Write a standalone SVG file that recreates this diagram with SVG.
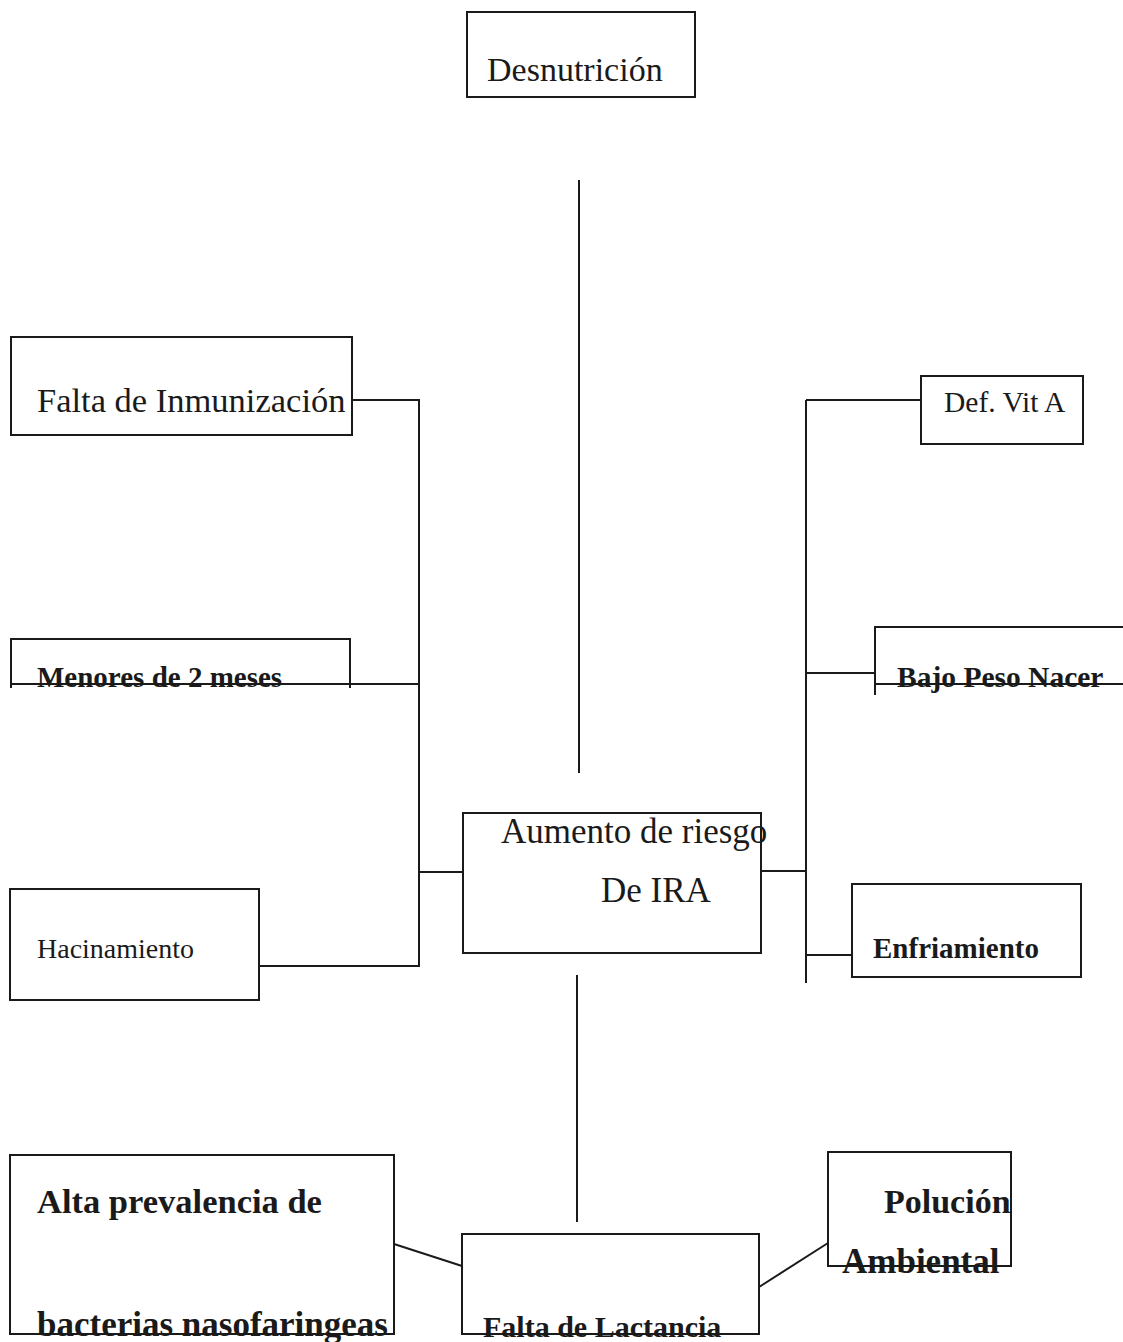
<svg xmlns="http://www.w3.org/2000/svg" width="1123" height="1342" viewBox="0 0 1123 1342">
<style>
.box{fill:none;stroke:#1a1a1a;stroke-width:2}
.ln{fill:none;stroke:#1a1a1a;stroke-width:2}
.t{font-family:"Liberation Serif","Times New Roman",serif;fill:#1a1a1a}
.b{font-weight:bold}
</style>
<rect width="1123" height="1342" fill="#fff"/>
<g id="connectors">
<line class="ln" x1="579" y1="180" x2="579" y2="773"/>
<polyline class="ln" points="352,400 419,400 419,966 259,966"/>
<line class="ln" x1="350" y1="684" x2="419" y2="684"/>
<line class="ln" x1="419" y1="872" x2="463" y2="872"/>
<line class="ln" x1="761" y1="871" x2="806" y2="871"/>
<line class="ln" x1="806" y1="400" x2="806" y2="983"/>
<line class="ln" x1="806" y1="400" x2="921" y2="400"/>
<line class="ln" x1="806" y1="673" x2="875" y2="673"/>
<line class="ln" x1="806" y1="955" x2="852" y2="955"/>
<line class="ln" x1="577" y1="975" x2="577" y2="1222"/>
<line class="ln" x1="394" y1="1244" x2="462" y2="1266"/>
<line class="ln" x1="759" y1="1287" x2="828" y2="1243"/>
</g>
<g id="desnutricion">
<rect class="box" x="467" y="12" width="228" height="85"/>
<text class="t" x="487" y="81" font-size="34">Desnutrición</text>
</g>
<g id="inmunizacion">
<rect class="box" x="11" y="337" width="341" height="98"/>
<text class="t" x="37" y="412" font-size="34.5">Falta de Inmunización</text>
</g>
<g id="menores">
<polyline class="box" points="11,688 11,639 350,639 350,688"/>
<line class="box" x1="11" y1="684" x2="350" y2="684"/>
<text class="t b" x="37" y="687" font-size="29">Menores de 2 meses</text>
</g>
<g id="hacinamiento">
<rect class="box" x="10" y="889" width="249" height="111"/>
<text class="t" x="37" y="958" font-size="28">Hacinamiento</text>
</g>
<g id="aumento">
<rect class="box" x="463" y="813" width="298" height="140"/>
<text class="t" x="501" y="843" font-size="35">Aumento de riesgo</text>
<text class="t" x="601" y="902" font-size="35">De IRA</text>
</g>
<g id="defvita">
<rect class="box" x="921" y="376" width="162" height="68"/>
<text class="t" x="944" y="412" font-size="29.5">Def. Vit A</text>
</g>
<g id="bajopeso">
<polyline class="box" points="875,695 875,627 1123,627"/>
<line class="box" x1="875" y1="684" x2="1123" y2="684"/>
<text class="t b" x="897" y="687" font-size="29.5">Bajo Peso Nacer</text>
</g>
<g id="enfriamiento">
<rect class="box" x="852" y="884" width="229" height="93"/>
<text class="t b" x="873" y="958" font-size="29">Enfriamiento</text>
</g>
<g id="alta">
<rect class="box" x="10" y="1155" width="384" height="179"/>
<text class="t b" x="37" y="1213" font-size="34.5">Alta prevalencia de</text>
<text class="t b" x="37" y="1336" font-size="35">bacterias nasofaringeas</text>
</g>
<g id="lactancia">
<rect class="box" x="462" y="1234" width="297" height="100"/>
<text class="t b" x="483" y="1337" font-size="30">Falta de Lactancia</text>
</g>
<g id="polucion">
<rect class="box" x="828" y="1152" width="183" height="114"/>
<text class="t b" x="884" y="1213" font-size="34">Polución</text>
<text class="t b" x="842" y="1273" font-size="35">Ambiental</text>
</g>
</svg>
